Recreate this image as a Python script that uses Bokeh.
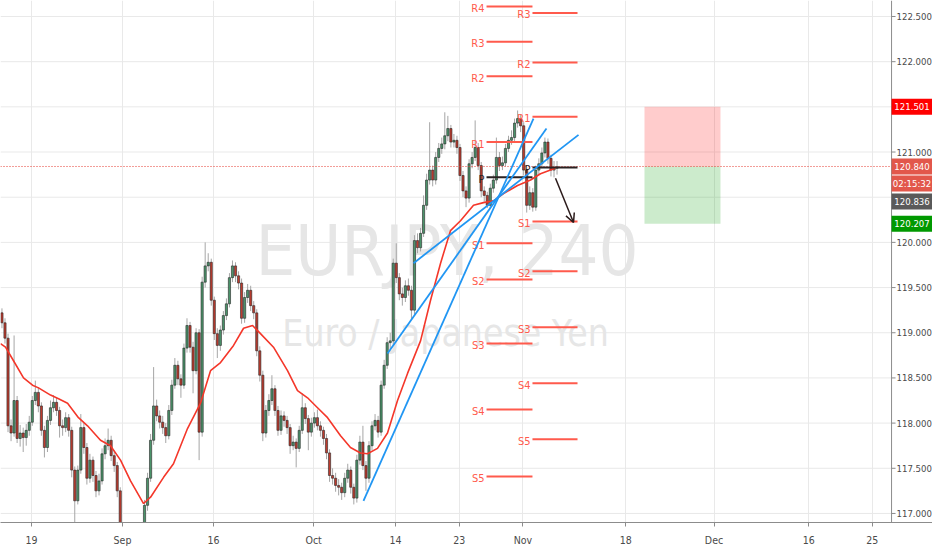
from bokeh.plotting import figure
from bokeh.models import Range1d, FixedTicker, Arrow, OpenHead, ColumnDataSource
from bokeh.core.properties import value
from bokeh.embed import file_html
from bokeh.resources import INLINE

FONT = "DejaVu Sans Condensed, Liberation Sans Narrow, sans-serif"

# ---------------- data (x = trading-day index, 0 = Aug 19; 3 bars per day) ----------------
bar_start_day = -3.25
bars_per_day = 3
first_open = 119.22
closes = [119.11, 118.94, 117.97, 117.89, 118.25, 117.83, 117.89, 117.84, 117.92, 118.01,
          118.25, 118.34, 118.19, 117.92, 117.73, 118.03, 118.17, 118.23, 118.14, 117.97,
          117.95, 118.06, 117.92, 117.48, 117.14, 117.48, 117.95, 117.73, 117.39, 117.59,
          117.42, 117.25, 117.36, 117.66, 117.75, 117.81, 117.64, 117.53, 117.25, 116.81,
          116.50, 116.30, 116.15, 116.05, 116.25, 116.50, 116.81, 117.09, 117.39, 117.81,
          118.19, 118.08, 118.01, 117.95, 117.86, 118.14, 118.42, 118.64, 118.49, 118.42,
          118.83, 119.08, 118.84, 118.58, 119.00, 117.90, 119.56, 119.74, 119.78, 119.36,
          118.99, 118.86, 119.03, 119.19, 119.32, 119.61, 119.74, 119.63, 119.55, 119.16,
          119.39, 119.47, 119.30, 119.22, 118.80, 118.53, 117.89, 118.14, 118.25, 118.38,
          118.14, 117.92, 118.08, 118.03, 117.95, 117.75, 117.79, 117.72, 117.92, 118.17,
          118.05, 117.90, 118.00, 118.06, 117.97, 117.92, 117.83, 117.67, 117.42, 117.39,
          117.31, 117.29, 117.23, 117.39, 117.48, 117.29, 117.17, 117.59, 117.79, 117.53,
          117.39, 117.75, 117.97, 118.03, 117.90, 118.42, 118.64, 118.89, 118.91, 119.77,
          119.61, 119.43, 119.39, 119.52, 119.47, 119.25, 120.02, 119.94, 120.10, 120.41,
          120.69, 120.80, 120.69, 120.94, 121.04, 121.09, 121.18, 121.26, 121.11, 121.13,
          121.05, 120.74, 120.57, 120.49, 120.87, 120.94, 121.05, 120.85, 120.57, 120.52,
          120.41, 120.60, 120.69, 120.94, 120.85, 120.88, 121.04, 121.13, 121.16, 121.32,
          121.37, 121.29, 120.80, 120.41, 120.55, 120.39, 120.80, 120.87, 120.99, 121.11,
          120.93, 120.80, 120.82, 120.836]
highs = [119.27, 119.16, 118.99, 118.04, 118.97, 118.30, 117.98, 117.95, 117.99, 118.08,
         118.30, 118.47, 118.40, 118.23, 117.97, 118.08, 118.25, 118.31, 118.28, 118.18,
         118.04, 118.12, 118.10, 117.96, 117.52, 117.53, 118.10, 118.00, 117.78, 117.66,
         117.63, 117.47, 117.44, 117.72, 117.83, 117.94, 117.86, 117.69, 117.57, 117.29,
         116.86, 116.56, 116.36, 116.22, 116.32, 116.58, 116.88, 117.15, 117.45, 117.88,
         118.62, 118.26, 118.14, 118.08, 118.00, 118.20, 118.48, 118.72, 118.69, 118.54,
         118.88, 119.16, 119.12, 118.90, 119.05, 119.04, 119.62, 120.00, 119.88, 119.82,
         119.40, 119.05, 119.08, 119.24, 119.38, 119.66, 119.80, 119.78, 119.68, 119.60,
         119.45, 119.54, 119.52, 119.35, 119.26, 118.85, 118.58, 118.20, 118.32, 118.53,
         118.42, 118.19, 118.14, 118.13, 118.08, 117.99, 117.86, 117.83, 117.97, 118.33,
         118.22, 118.09, 118.06, 118.12, 118.15, 118.02, 117.96, 117.88, 117.71, 117.50,
         117.45, 117.38, 117.34, 117.45, 117.55, 117.52, 117.33, 117.65, 117.86, 117.97,
         117.58, 117.80, 118.02, 118.10, 118.08, 118.47, 118.70, 118.95, 119.00, 119.82,
         119.99, 119.66, 119.50, 119.58, 119.60, 119.52, 120.08, 120.10, 120.16, 120.52,
         120.76, 121.33, 120.85, 121.00, 121.10, 121.16, 121.44, 121.40, 121.30, 121.20,
         121.18, 121.09, 120.79, 120.62, 120.92, 121.00, 121.35, 121.10, 120.89, 120.62,
         120.56, 120.65, 120.75, 121.16, 121.00, 120.95, 121.09, 121.18, 121.24, 121.37,
         121.46, 121.42, 121.33, 120.84, 120.62, 120.60, 120.85, 120.93, 121.05, 121.16,
         121.15, 120.97, 120.90, 120.90]
lows = [119.05, 118.88, 117.90, 117.80, 117.85, 117.78, 117.74, 117.68, 117.75, 117.86,
        117.97, 118.20, 118.12, 117.86, 117.62, 117.68, 117.98, 118.12, 118.08, 117.84,
        117.86, 117.90, 117.85, 117.40, 116.85, 117.10, 117.44, 117.66, 117.32, 117.34,
        117.35, 117.18, 117.20, 117.32, 117.60, 117.70, 117.58, 117.46, 117.18, 116.70,
        116.42, 116.22, 116.05, 115.90, 116.00, 116.20, 116.45, 116.76, 117.03, 117.35,
        117.76, 118.02, 117.94, 117.88, 117.78, 117.82, 118.09, 118.38, 118.42, 118.28,
        118.38, 118.78, 118.78, 118.33, 118.54, 117.59, 117.85, 119.50, 119.68, 119.30,
        118.92, 118.72, 118.80, 118.98, 119.14, 119.28, 119.56, 119.56, 119.48, 119.10,
        119.11, 119.33, 119.24, 119.15, 118.74, 118.46, 117.80, 117.84, 118.08, 118.20,
        118.08, 117.86, 117.87, 117.96, 117.88, 117.66, 117.70, 117.51, 117.68, 117.88,
        117.99, 117.70, 117.85, 117.95, 117.92, 117.85, 117.76, 117.60, 117.35, 117.32,
        117.24, 117.20, 117.15, 117.18, 117.34, 117.22, 117.10, 117.12, 117.54, 117.48,
        117.25, 117.34, 117.70, 117.92, 117.84, 117.86, 118.38, 118.60, 118.82, 118.86,
        119.55, 119.36, 119.30, 119.34, 119.41, 119.14, 119.20, 119.88, 119.90, 120.06,
        120.36, 120.64, 120.62, 120.64, 120.89, 120.98, 121.03, 121.12, 121.05, 121.05,
        120.98, 120.68, 120.50, 120.39, 120.44, 120.82, 120.90, 120.80, 120.50, 120.45,
        120.38, 120.37, 120.55, 120.65, 120.79, 120.80, 120.84, 121.00, 121.08, 121.11,
        121.27, 121.22, 120.74, 120.33, 120.36, 120.34, 120.35, 120.75, 120.82, 120.94,
        120.87, 120.73, 120.72, 120.75]

ema_day = [-3.41, -2.86, -1.98, -0.88, 0.11, 0.77, 2.09, 2.97, 3.96, 5.16, 6.15, 7.58, 8.68,
           9.78, 10.88, 12.31, 13.08, 14.51, 15.60, 17.14, 18.57, 19.67, 20.77, 22.20, 23.30,
           24.29, 25.16, 26.59, 28.13, 29.23, 30.33, 31.43, 32.53, 33.96, 35.05, 36.15, 36.92,
           38.02, 39.12, 40.22, 41.32, 42.75, 43.85, 44.95, 46.04, 47.14, 48.57, 49.67, 50.77,
           51.87, 53.41, 54.84, 55.93, 57.03, 57.58]
ema_price = [118.88, 118.84, 118.69, 118.50, 118.42, 118.39, 118.31, 118.27, 118.22, 118.06,
             117.97, 117.81, 117.75, 117.59, 117.36, 117.11, 117.18, 117.40, 117.55, 117.94,
             118.22, 118.58, 118.67, 118.86, 119.05, 119.08, 118.99, 118.84, 118.58, 118.36,
             118.28, 118.17, 118.06, 117.86, 117.73, 117.67, 117.66, 117.72, 117.89, 118.25,
             118.55, 118.91, 119.36, 119.77, 120.13, 120.24, 120.41, 120.44, 120.46, 120.54,
             120.63, 120.69, 120.76, 120.80, 120.82]

x_tick_days = [0, 10, 20, 31, 40, 47, 54, 65.3, 75, 85.4, 92.4]
x_tick_labels = ["19", "Sep", "16", "Oct", "14", "23", "Nov", "18", "Dec", "16", "25"]
y_ticks = [117.0, 117.5, 118.0, 118.5, 119.0, 119.5, 120.0, 120.5, 121.0, 121.5, 122.0, 122.5]

# weekly pivot points
pivot_w1_span = (50.0, 55.05)
pivot_w1_names = ["R4", "R3", "R2", "R1", "P", "S1", "S2", "S3", "S4", "S5"]
pivot_w1_levels = [122.61, 122.22, 121.84, 121.11, 120.72, 119.99, 119.59, 118.88, 118.15, 117.41]
pivot_w2_span = (55.05, 60.0)
pivot_w2_names = ["R3", "R2", "R1", "P", "S1", "S2", "S3", "S4", "S5"]
pivot_w2_levels = [122.54, 121.99, 121.39, 120.83, 120.23, 119.68, 119.06, 118.44, 117.82]

# trend lines
trend_x0 = [41.98, 39.12, 36.48]
trend_y0 = [119.77, 118.77, 117.14]
trend_x1 = [60.11, 56.59, 55.16]
trend_y1 = [121.19, 121.26, 121.37]

# projection arrow
arrow_start = (57.58, 120.71)
arrow_end = (59.56, 120.22)

# short position tool
pos_days = (67.36, 75.71)
entry_price = 120.840
stop_price = 121.501
target_price = 120.207
last_price = 120.836
countdown = "02:15:32"

# watermark
wm_symbol = "EURJPY, 240"
wm_name = "Euro / Japanese Yen"

# ---------------- geometry ----------------
W, H = 932, 550
BOTTOM_PANEL = 28
FRAME_H = H - BOTTOM_PANEL
X_START, X_AXIS, X_END = -3.41, 94.51, 99.01      # price scale sits between X_AXIS and X_END
Y_START, Y_END = 116.90, 122.677
PX_PER_DAY = W / (X_END - X_START)
PX_PER_PRICE = FRAME_H / (Y_END - Y_START)

p = figure(width=W, height=H, x_range=Range1d(X_START, X_END), y_range=Range1d(Y_START, Y_END),
           output_backend="svg", toolbar_location=None, y_axis_location=None)
p.min_border_left = 0
p.min_border_top = 0
p.min_border_right = 0
p.min_border_bottom = BOTTOM_PANEL
p.outline_line_color = None
p.background_fill_color = "white"

# grid
p.xgrid.ticker = FixedTicker(ticks=x_tick_days)
p.xgrid.grid_line_color = "#e9e9e9"
p.ygrid.grid_line_color = None
p.segment(x0=[X_START] * len(y_ticks), y0=y_ticks, x1=[X_AXIS] * len(y_ticks), y1=y_ticks,
          line_color="#e9e9e9", line_width=1)

# time axis
p.xaxis.ticker = FixedTicker(ticks=x_tick_days)
p.xaxis.major_label_overrides = {d: l for d, l in zip(x_tick_days, x_tick_labels)}
p.xaxis.major_label_text_font = FONT
p.xaxis.major_label_text_font_size = "10.5px"
p.xaxis.major_label_text_color = "#4a4a4a"
p.xaxis.axis_line_color = "#8c8c8c"
p.xaxis.major_tick_line_color = "#8c8c8c"
p.xaxis.major_tick_in = 0
p.xaxis.major_tick_out = 4
p.xaxis.minor_tick_line_color = None
p.xaxis.major_label_standoff = 7

# watermark
p.text(x=[45.66], y=[119.91], text=[wm_symbol], text_align="center", text_baseline="alphabetic",
       text_font=value(FONT), text_font_size="70px", text_color="#e6e6e6")
p.text(x=[45.5], y=[118.99], text=[wm_name], text_align="center", text_baseline="alphabetic",
       text_font=value(FONT), text_font_size="37px", text_color="#e6e6e6")

# position boxes
p.quad(left=[pos_days[0]], right=[pos_days[1]], bottom=[entry_price], top=[stop_price],
       fill_color="#ff0000", fill_alpha=0.2, line_color=None)
p.quad(left=[pos_days[0]], right=[pos_days[1]], bottom=[target_price], top=[entry_price],
       fill_color="#009900", fill_alpha=0.2, line_color=None)

# candles
n = len(closes)
xs = [bar_start_day + k / bars_per_day for k in range(n)]
opens = [first_open] + closes[:-1]
tops = [max(o, c) for o, c in zip(opens, closes)]
bots = [min(o, c) for o, c in zip(opens, closes)]
cols = ["#4b936a" if c >= o else "#bd3b2e" for o, c in zip(opens, closes)]
src = ColumnDataSource(dict(x=xs, h=highs, l=lows, t=tops, b=bots, c=cols))
p.segment(x0="x", y0="h", x1="x", y1="l", source=src, line_color="#a6a6a6", line_width=1)
p.vbar(x="x", width=0.24, top="t", bottom="b", source=src, fill_color="c", line_color="#262626",
       line_width=0.6)

# EMA
p.line(ema_day, ema_price, line_color="#f4372a", line_width=1.6)

# current price line (dotted, up to the price scale)
p.segment(x0=[X_START], y0=[entry_price], x1=[X_AXIS], y1=[entry_price], line_color="#e53a2f",
          line_dash="1 2", line_width=1)

# pivots (labels sit ~2px below their line, to the left of it)
label_drop = 2 / PX_PER_PRICE

def pivots(span, names, levels):
    for nm, lv in zip(names, levels):
        col = "#2a2222" if nm == "P" else "#ff5a4c"
        p.segment(x0=[span[0]], y0=[lv], x1=[span[1]], y1=[lv], line_color=col, line_width=2)
        p.text(x=[span[0]], y=[lv - label_drop], text=[nm], text_align="right", text_baseline="middle",
               x_offset=-2, text_font=value(FONT), text_font_size="11px", text_color=col)

pivots(pivot_w1_span, pivot_w1_names, pivot_w1_levels)
pivots(pivot_w2_span, pivot_w2_names, pivot_w2_levels)

# trend lines
p.segment(x0=trend_x0, y0=trend_y0, x1=trend_x1, y1=trend_y1, line_color="#2196f3", line_width=1.8)

# arrow
p.add_layout(Arrow(end=OpenHead(size=9, line_color="#2b1b1b", line_width=1.5),
                   x_start=arrow_start[0], y_start=arrow_start[1], x_end=arrow_end[0], y_end=arrow_end[1],
                   line_color="#2b1b1b", line_width=1.5))

# ---------------- price scale (right) ----------------
tag_h = 16 / PX_PER_PRICE
tags = [  # (centre price, text, colour)
    (stop_price, f"{stop_price:.3f}", "#ff0000"),
    (entry_price, f"{entry_price:.3f}", "#e2574b"),
    (entry_price - 17 / PX_PER_PRICE, countdown, "#e2574b"),
    (entry_price - 35 / PX_PER_PRICE, f"{last_price:.3f}", "#5a5a5a"),
    (target_price, f"{target_price:.3f}", "#009900"),
]
tick_len = 4 / PX_PER_DAY
p.segment(x0=[X_AXIS], y0=[Y_START], x1=[X_AXIS], y1=[Y_END], line_color="#8c8c8c", line_width=1)
p.segment(x0=[X_AXIS] * len(y_ticks), y0=y_ticks, x1=[X_AXIS + tick_len] * len(y_ticks), y1=y_ticks,
          line_color="#8c8c8c", line_width=1)
shown = [t for t in y_ticks if all(abs(t - c) * PX_PER_PRICE >= 13 for c, _, _ in tags)]
p.text(x=[X_AXIS] * len(shown), y=shown, text=[f"{t:.3f}" for t in shown], x_offset=5,
       text_align="left", text_baseline="middle", text_font=value(FONT), text_font_size="9.5px",
       text_color="#4a4a4a")

p.quad(left=[X_AXIS] * len(tags), right=[X_END] * len(tags),
       bottom=[c - tag_h / 2 for c, _, _ in tags], top=[c + tag_h / 2 for c, _, _ in tags],
       fill_color=[col for _, _, col in tags], line_color=None)
p.text(x=[(X_AXIS + X_END) / 2] * len(tags), y=[c for c, _, _ in tags], text=[t for _, t, _ in tags],
       text_align="center", text_baseline="middle", text_font=value(FONT), text_font_size="9.5px",
       text_color="white")

open("out.html", "w").write(file_html(p, INLINE))
